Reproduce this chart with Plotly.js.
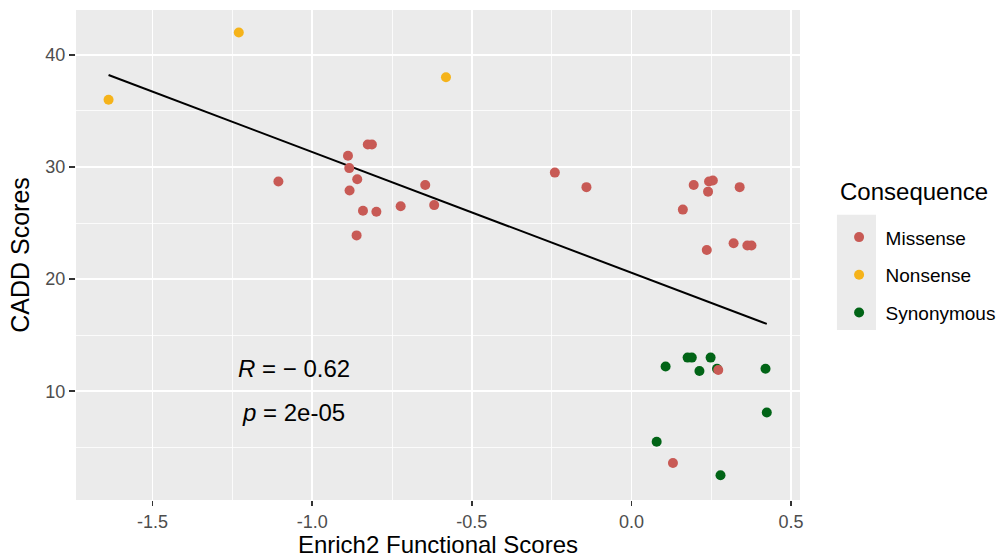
<!DOCTYPE html>
<html>
<head>
<meta charset="utf-8">
<script src="https://cdn.plot.ly/plotly-3.0.1.min.js"></script>
<style>html,body{margin:0;padding:0;background:#fff;}#chart{width:999px;height:558px;}</style>
</head>
<body>
<div id="chart"></div>
<script>
// ---- Data ----
const missenseX = [-1.106, -0.888, -0.884, -0.859, -0.883, -0.826, -0.813, -0.841, -0.799, -0.861, -0.723, -0.646, -0.618,
                   -0.240, -0.141, 0.195, 0.161, 0.243, 0.255, 0.240, 0.339, 0.236, 0.320, 0.363, 0.376, 0.272, 0.130];
const missenseY = [28.7, 31.0, 29.9, 28.9, 27.9, 32.0, 32.0, 26.1, 26.0, 23.9, 26.5, 28.4, 26.6,
                   29.5, 28.2, 28.4, 26.2, 28.7, 28.8, 27.8, 28.2, 22.6, 23.2, 23.0, 23.0, 11.9, 3.6];
const nonsenseX = [-1.638, -1.230, -0.581];
const nonsenseY = [36.0, 42.0, 38.0];
const synonymousX = [0.107, 0.176, 0.189, 0.248, 0.213, 0.268, 0.420, 0.424, 0.079, 0.279];
const synonymousY = [12.2, 13.0, 13.0, 13.0, 11.8, 12.0, 12.0, 8.1, 5.5, 2.5];
const categories = ["Missense", "Nonsense", "Synonymous"];
const legendTitle = "Consequence";
const statLabels = ["<i>R</i> = \u2212 0.62", "<i>p</i> = 2e-05"];
const xTicks = [-1.5, -1.0, -0.5, 0.0, 0.5];
const xTickText = ["-1.5", "-1.0", "-0.5", "0.0", "0.5"];
const yTicks = [10, 20, 30, 40];

// ---- Linear fit over all points (as ggplot geom_smooth(method="lm")) ----
const allX = [...synonymousX, ...missenseX, ...nonsenseX];
const allY = [...synonymousY, ...missenseY, ...nonsenseY];
const n = allX.length;
const mx = allX.reduce((a,b)=>a+b,0)/n, my = allY.reduce((a,b)=>a+b,0)/n;
let sxy=0, sxx=0;
for (let i=0;i<n;i++){ sxy += (allX[i]-mx)*(allY[i]-my); sxx += (allX[i]-mx)**2; }
const slope = sxy/sxx, icpt = my - slope*mx;
const xmin = Math.min(...allX), xmax = Math.max(...allX);

const colors = {Missense:"#c85a55", Nonsense:"#f5b31a", Synonymous:"#016416"};
const font = "Liberation Sans, Arial, Helvetica, sans-serif";

const traces = [
  {x:[xmin,xmax], y:[icpt+slope*xmin, icpt+slope*xmax], mode:"lines", line:{color:"#000", width:2}, showlegend:false, hoverinfo:"skip"},
  {x:synonymousX, y:synonymousY, mode:"markers", name:categories[2], legendgroup:"c", legendrank:3, marker:{color:colors.Synonymous, size:10}},
  {x:missenseX, y:missenseY, mode:"markers", name:categories[0], legendgroup:"a", legendrank:1, marker:{color:colors.Missense, size:10}},
  {x:nonsenseX, y:nonsenseY, mode:"markers", name:categories[1], legendgroup:"b", legendrank:2, marker:{color:colors.Nonsense, size:10}}
];

const layout = {
  width:999, height:558,
  margin:{l:76, r:199, t:10, b:58, autoexpand:false},
  paper_bgcolor:"#fff", plot_bgcolor:"#ebebeb",
  font:{family:font, color:"#000"},
  xaxis:{
    range:[-1.74, 0.528], tickvals:xTicks, ticktext:xTickText,
    ticks:"outside", ticklen:5, tickwidth:1.5, tickcolor:"#333",
    tickfont:{size:18, color:"#4d4d4d"}, showline:false, zeroline:false,
    gridcolor:"#fff", gridwidth:1.6,
    minor:{dtick:0.25, tick0:0, showgrid:true, gridcolor:"#fff", gridwidth:0.8},
    title:{text:"Enrich2 Functional Scores", font:{size:24, color:"#000"}, standoff:2}
  },
  yaxis:{
    range:[0.3, 44], tickvals:yTicks,
    ticks:"outside", ticklen:6, tickwidth:1.5, tickcolor:"#333",
    tickfont:{size:18, color:"#4d4d4d"}, showline:false, zeroline:false,
    gridcolor:"#fff", gridwidth:1.6,
    minor:{dtick:5, tick0:0, showgrid:true, gridcolor:"#fff", gridwidth:0.8},
    title:{text:"CADD Scores", font:{size:25, color:"#000"}, standoff:8}
  },
  legend:{
    x:1.045, y:0.575, xanchor:"left", yanchor:"top",
    bgcolor:"rgba(0,0,0,0)", traceorder:"grouped", tracegroupgap:10, itemwidth:43,
    font:{size:19, color:"#000"}
  },
  shapes:[
    {type:"rect", xref:"paper", yref:"paper", x0:1.051, x1:1.105, y0:0.347, y1:0.582, fillcolor:"#ebebeb", line:{width:0}, layer:"below"}
  ],
  annotations:[
    {xref:"paper", yref:"paper", x:1.0525, y:0.6286, xanchor:"left", yanchor:"middle", text:legendTitle, showarrow:false, font:{size:24, color:"#000"}},
    {xref:"x", yref:"y", x:-1.058, y:12.0, text:statLabels[0], showarrow:false, font:{size:24, color:"#000"}},
    {xref:"x", yref:"y", x:-1.058, y:8.1, text:statLabels[1], showarrow:false, font:{size:24, color:"#000"}}
  ],
  hovermode:false
};

Plotly.newPlot("chart", traces, layout, {staticPlot:true, displayModeBar:false});
</script>
</body>
</html>
